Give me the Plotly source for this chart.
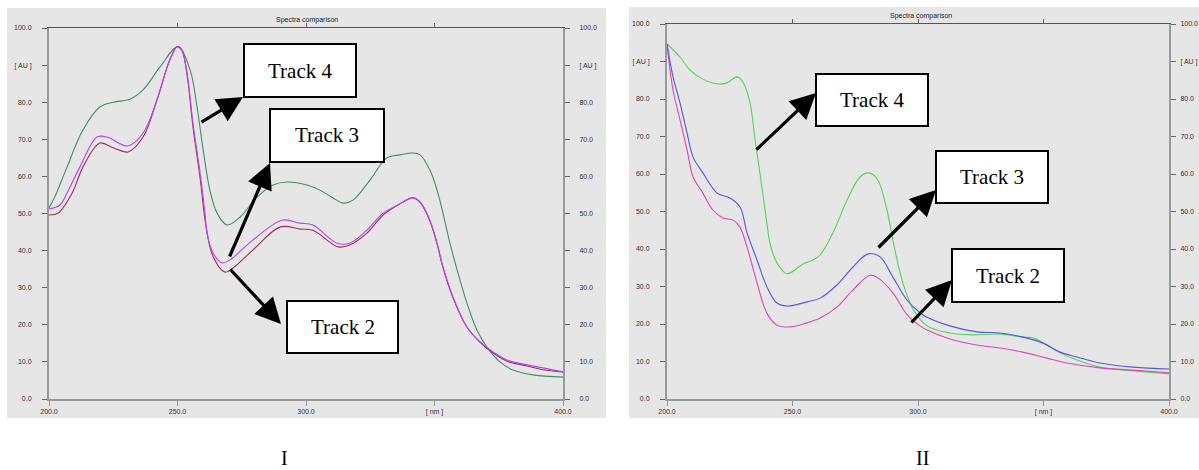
import plotly.graph_objects as go

W, H = 1199, 470

# ---------------- data: panel I ----------------
p1_track4_x = [200, 202.3, 207, 213.2, 219.8, 225, 231.5, 236.6, 243.2, 250.2, 254.9, 257.6, 260, 262.6, 265.4, 269.3,
               274.3, 280.9, 287.2, 292.6, 300.4, 305.4, 310.5, 314.4, 318.3, 324.9, 331.5, 336.6, 341.6, 344.4, 348.2,
               351, 353.3, 356, 358.8, 362.6, 366.5, 370.4, 375.5, 380.5, 388.3, 400]
p1_track4_y = [51.5, 54.5, 62.5, 72.5, 78.7, 80, 80.8, 83.3, 89.5, 94.9, 88.7, 78.7, 67.1, 56.3, 50.1, 46.9,
               49, 54.4, 57.7, 58.5, 57.7, 56.3, 54.2, 52.8, 53.6, 59, 65, 65.8, 66.3, 65.8, 61.7,
               56.3, 50.1, 42, 34.8, 25.9, 18.6, 14, 10, 7.8, 6.5, 5.9]

p1_track3_x = [200, 204.3, 207, 212, 218.7, 222.6, 230.7, 236.6, 242, 247, 250, 251.7, 253.7, 256, 258.8, 260.7,
               261.5, 263.8, 267.3, 270.4, 279.4, 290.7, 297.7, 302.7, 312, 317, 323.7, 330, 335.8, 341.6, 344.4,
               348.2, 351, 353.3, 357.2, 362.6, 367.7, 372.8, 378.2, 386, 392.2, 400]
p1_track3_y = [51.2, 52.3, 55.5, 62.5, 70.6, 70.6, 68.2, 71.7, 80.6, 91.4, 95, 94, 87.9, 74.4, 60.9, 50.1,
               44.7, 39.4, 36.7, 37.5, 42.9, 48.2, 47.4, 46.9, 42, 42, 45.5, 50.1, 52.3, 54.2, 53.1,
               48.2, 42, 35.6, 27.5, 19.4, 15.4, 12.7, 10.5, 9.2, 8.4, 7.3]

p1_track2_x = [200, 203.5, 209, 213.2, 219.8, 225, 230.7, 236.6, 242, 247, 250, 251.7, 253.7, 256, 258.8, 261,
               263.8, 268.5, 271.6, 279.4, 290, 297.7, 302.7, 312.5, 317, 323.7, 330, 335.8, 341.6, 344.4, 348.2,
               351, 353.3, 357.2, 362.6, 367.7, 372.8, 378.2, 386, 392.2, 400]
p1_track2_y = [49.6, 50.1, 55.5, 62.5, 69, 67.7, 66.6, 70.6, 80.6, 91.4, 95, 94, 87.5, 73.5, 59.5, 47,
               38.5, 34.2, 35.3, 40.2, 46.4, 45.8, 45.5, 41, 41.5, 44.7, 49.6, 52.3, 54.2, 53, 48,
               41.8, 35.4, 27.3, 19.4, 15.3, 12.4, 10.2, 8.9, 7.9, 7.3]

# ---------------- data: panel II ----------------
p2_track4_x = [200, 205.2, 209.2, 214.3, 220.3, 223.9, 227.9, 230.3, 233.1, 235.1, 237, 239.8, 241, 243.8, 247.8,
               254.2, 258, 261, 266.1, 271.7, 276.9, 280.5, 284, 287.6, 290.8, 294, 298, 303.6, 312.7, 321.9,
               332.7, 341.8, 345.8, 351.4, 356.6, 363.3, 372.5, 385.7, 400]
p2_track4_y = [94.7, 91.2, 87.7, 85.3, 84, 84.3, 85.9, 84.5, 78.9, 69, 60.3, 46.9, 41.6, 36.3, 33.4,
               36, 37, 38.4, 44.3, 53, 59.2, 60.3, 58.4, 50.4, 39.7, 30.9, 24, 19.5, 17.6, 17.1,
               17.3, 16.5, 16.3, 14.4, 12.3, 10.4, 8.5, 7.5, 6.7]

p2_track3_x = [200, 202.4, 205.2, 208, 210.4, 214.3, 220, 225.1, 229.1, 231.9, 235.9, 239.8, 243.8, 247.8, 255.8,
               261, 267.7, 274.1, 280.1, 284.9, 290, 295.6, 300.8, 303.6, 312.7, 323.5, 332.7, 341.8, 349.8,
               356.6, 363.3, 372.5, 385.7, 400]
p2_track3_y = [94.7, 85.9, 78.9, 70.9, 64.5, 60.3, 54.9, 53.6, 51.2, 44.3, 37, 29.9, 25.6, 24.8, 25.9,
               26.9, 30.4, 35.2, 38.7, 37.9, 32.5, 26.4, 23, 21.8, 19.5, 17.9, 17.6, 16.5, 14.9,
               12.5, 11.2, 9.6, 8.5, 8]

p2_track2_x = [200, 202.4, 205.2, 208, 210.4, 214.3, 218.3, 222.3, 226.3, 229, 231.9, 235.9, 239.8, 243.8, 249,
               255.8, 261, 267.7, 274.1, 280.9, 284, 290, 295.6, 300.8, 303.6, 312.7, 323.5, 332.7, 341.8,
               351.4, 359.4, 372.5, 385.7, 400]
p2_track2_y = [94.7, 82.4, 74.4, 66.4, 59.2, 54.9, 50.4, 48.3, 47.7, 45.9, 40.5, 30.9, 22.9, 19.7, 19.2,
               20.3, 21.6, 24.5, 29.1, 33, 32.3, 28.3, 22.5, 19.5, 18.4, 16, 14.4, 13.6, 12.5,
               10.9, 9.6, 8.3, 7.7, 7]

# ---------------- tick labels ----------------
y_tickvals = [0, 10, 20, 30, 40, 50, 60, 70, 80, 90, 100]
y_ticktext = ["0.0", "10.0", "20.0", "30.0", "40.0", "50.0", "60.0", "70.0", "80.0", "[ AU ]", "100.0"]
x_tickvals = [200, 250, 300, 350, 400]
x_ticktext = ["200.0", "250.0", "300.0", "[ nm ]", "400.0"]
panel_titles = ["Spectra comparison", "Spectra comparison"]
panel_labels = ["I", "II"]
track_names = ["Track 4", "Track 3", "Track 2"]


def px_x(p):
    return p / W


def px_y(p):
    return 1 - p / H


fig = go.Figure()

line_w = 1.1
# Panel I (track 3 drawn on the overlay axes so that the right/top axes are rendered)
fig.add_trace(go.Scatter(x=p1_track4_x, y=p1_track4_y, mode="lines", line=dict(color="#3f8f66", width=line_w, shape="spline"), xaxis="x", yaxis="y"))
fig.add_trace(go.Scatter(x=p1_track2_x, y=p1_track2_y, mode="lines", line=dict(color="#a8285a", width=line_w, shape="spline"), xaxis="x", yaxis="y"))
fig.add_trace(go.Scatter(x=p1_track3_x, y=p1_track3_y, mode="lines", line=dict(color="#b245f0", width=line_w, shape="spline"), xaxis="x3", yaxis="y3"))

# Panel II
fig.add_trace(go.Scatter(x=p2_track4_x, y=p2_track4_y, mode="lines", line=dict(color="#55d455", width=line_w, shape="spline"), xaxis="x2", yaxis="y2"))
fig.add_trace(go.Scatter(x=p2_track2_x, y=p2_track2_y, mode="lines", line=dict(color="#e245b5", width=line_w, shape="spline"), xaxis="x2", yaxis="y2"))
fig.add_trace(go.Scatter(x=p2_track3_x, y=p2_track3_y, mode="lines", line=dict(color="#5555e6", width=line_w, shape="spline"), xaxis="x4", yaxis="y4"))

tickfont = dict(family="Liberation Sans, Arial", size=7, color="#333333")
axis_gray = "#999999"

L = dict(x0=49, x1=563, y0=28, y1=399)
R = dict(x0=667, x1=1169, y0=24, y1=399)


def xdom(d):
    return [d["x0"] / W, d["x1"] / W]


def ydom(d):
    return [1 - d["y1"] / H, 1 - d["y0"] / H]


base_x = dict(range=[200, 400], tickvals=x_tickvals, ticktext=x_ticktext, ticks="outside", ticklen=5,
              tickcolor=axis_gray, showline=True, linecolor=axis_gray, linewidth=2, showgrid=False,
              zeroline=False, tickfont=tickfont, fixedrange=True, automargin=False)
base_y = dict(range=[0, 100], tickvals=y_tickvals, ticktext=y_ticktext, ticks="outside", ticklen=5,
              tickcolor="#666666", showline=True, linecolor=axis_gray, linewidth=2, showgrid=False,
              zeroline=False, tickfont=tickfont, fixedrange=True, automargin=False)
top_x = dict(range=[200, 400], tickvals=[250, 300, 350], showticklabels=False, ticks="outside", ticklen=4,
             tickcolor="#666666", showline=True, linecolor="#555555", linewidth=1, showgrid=False,
             zeroline=False, side="top", fixedrange=True, automargin=False)

fig.update_layout(
    width=W, height=H,
    margin=dict(l=0, r=0, t=0, b=0, autoexpand=False),
    paper_bgcolor="white",
    plot_bgcolor="rgba(0,0,0,0)",
    showlegend=False,
    xaxis=dict(base_x, domain=xdom(L), anchor="y"),
    yaxis=dict(base_y, domain=ydom(L), anchor="x", ticklabelstandoff=9),
    xaxis3=dict(top_x, overlaying="x", anchor="y"),
    yaxis3=dict(base_y, overlaying="y", side="right", anchor="x", ticklabelstandoff=8),
    xaxis2=dict(base_x, domain=xdom(R), anchor="y2"),
    yaxis2=dict(base_y, domain=ydom(R), anchor="x2", ticklabelstandoff=9),
    xaxis4=dict(top_x, overlaying="x2", anchor="y2"),
    yaxis4=dict(base_y, overlaying="y2", side="right", anchor="x2", ticklabelstandoff=3),
)

# gray panel backgrounds
fig.add_shape(type="rect", xref="paper", yref="paper", x0=px_x(7), x1=px_x(606), y0=px_y(418), y1=px_y(8),
              fillcolor="#e6e6e6", line=dict(width=0), layer="below")
fig.add_shape(type="rect", xref="paper", yref="paper", x0=px_x(629), x1=px_x(1199), y0=px_y(418), y1=px_y(7),
              fillcolor="#e6e6e6", line=dict(width=0), layer="below")

# panel titles
for t, (cx, cy) in zip(panel_titles, [(307, 20), (921, 16)]):
    fig.add_annotation(text=t, xref="paper", yref="paper", x=px_x(cx), y=px_y(cy), showarrow=False,
                       xanchor="center", yanchor="middle",
                       font=dict(family="Liberation Sans, Arial", size=7, color="#222222"))

# panel labels I, II
for t, cx in zip(panel_labels, [284, 922]):
    fig.add_annotation(text=t, xref="paper", yref="paper", x=px_x(cx), y=px_y(458), showarrow=False,
                       xanchor="center", yanchor="middle",
                       font=dict(family="Liberation Serif, Times New Roman", size=20, color="black"))

# track boxes: (x0, x1, y0, y1)
boxes = [
    (244, 356, 44, 97), (270, 384, 109, 162), (287, 398, 301, 353),
    (816, 928, 74, 126), (936, 1048, 151, 203), (952, 1064, 249, 302),
]
box_names = track_names + track_names
for name, (bx0, bx1, by0, by1) in zip(box_names, boxes):
    fig.add_shape(type="rect", xref="paper", yref="paper", x0=px_x(bx0), x1=px_x(bx1), y0=px_y(by1), y1=px_y(by0),
                  fillcolor="white", line=dict(color="black", width=2))
    fig.add_annotation(text=name, xref="paper", yref="paper", x=px_x((bx0 + bx1) / 2), y=px_y((by0 + by1) / 2),
                       xanchor="center", yanchor="middle",
                       showarrow=False, font=dict(family="Liberation Serif, Times New Roman", size=21, color="black"))

# arrows: (tail, head) in pixels
arrows = [
    ((200, 123), (243, 97)),
    ((229, 258), (270, 163)),
    ((229, 268), (281, 324)),
    ((755, 151), (816, 93)),
    ((877, 249), (936, 190)),
    ((910, 324), (952, 280)),
]
for (tx, ty), (hx, hy) in arrows:
    fig.add_annotation(text="", xref="paper", yref="paper", x=px_x(hx), y=px_y(hy),
                       ax=tx - hx, ay=ty - hy, axref="pixel", ayref="pixel",
                       showarrow=True, arrowhead=2, arrowsize=1.6, arrowwidth=3.2, arrowcolor="black")

fig.write_html("out.html")
